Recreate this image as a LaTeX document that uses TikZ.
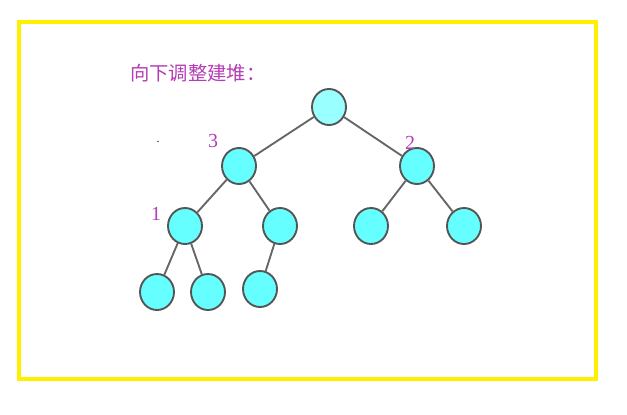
\documentclass[tikz,border=0pt]{standalone}
\usepackage{fontspec}
\usepackage{tikz}
\usetikzlibrary{shapes.geometric, positioning}
\newfontfamily\cjk{Noto Sans CJK SC}
\setmainfont{Liberation Serif}
\definecolor{framey}{RGB}{255, 240, 0}
\definecolor{heapfill}{RGB}{102, 255, 255}
\definecolor{rootfill}{RGB}{153, 255, 255}
\definecolor{heapborder}{RGB}{85, 85, 85}
\definecolor{edgegray}{RGB}{102, 102, 102}
\definecolor{labelpink}{RGB}{180, 60, 180}
\tikzset{
  heapnode/.style={
    ellipse, draw=heapborder, fill=heapfill, line width=1.6pt,
    minimum width=1.02cm, minimum height=1.08cm, inner sep=0pt
  },
  rootnode/.style={heapnode, fill=rootfill},
  heapedge/.style={draw=edgegray, line width=1.6pt},
  steplabel/.style={text=labelpink, font=\fontsize{17}{17}\selectfont, inner sep=0pt},
  outerframe/.style={draw=framey, line width=3.2pt}
}
\begin{document}
\begin{tikzpicture}[x=0.03cm, y=-0.03cm]
  \useasboundingbox (0,0) rectangle (627,414);
  \draw[outerframe] (19,22) rectangle (596,379);

  % title
  \node[anchor=west, text=labelpink, font=\cjk\fontsize{16.5}{16.5}\selectfont, inner sep=0pt] (title) at (130,73) {向下调整建堆：};

  % tree
  \node[rootnode] (root) at (329,107) {};
  \node[heapnode] (a) at (239,166) {};
  \node[heapnode] (b) at (417,166) {};
  \node[heapnode] (aa) at (185,226) {};
  \node[heapnode] (ab) at (280,226) {};
  \node[heapnode] (ba) at (371,226) {};
  \node[heapnode] (bb) at (464,226) {};
  \node[heapnode] (aaa) at (157,292) {};
  \node[heapnode] (aab) at (208,292) {};
  \node[heapnode] (aba) at (260,289) {};

  \draw[heapedge] (root) -- (a);
  \draw[heapedge] (root) -- (b);
  \draw[heapedge] (a) -- (aa);
  \draw[heapedge] (a) -- (ab);
  \draw[heapedge] (b) -- (ba);
  \draw[heapedge] (b) -- (bb);
  \draw[heapedge] (aa) -- (aaa);
  \draw[heapedge] (aa) -- (aab);
  \draw[heapedge] (ab) -- (aba);

  % order labels
  \node[steplabel] (three) at (213,141) {3};
  \node[steplabel] (two) at (410,143) {2};
  \node[steplabel] (one) at (156,214) {1};
  \node[inner sep=0pt, font=\normalsize] (dot) at (158,142) {.};
\end{tikzpicture}
\end{document}
